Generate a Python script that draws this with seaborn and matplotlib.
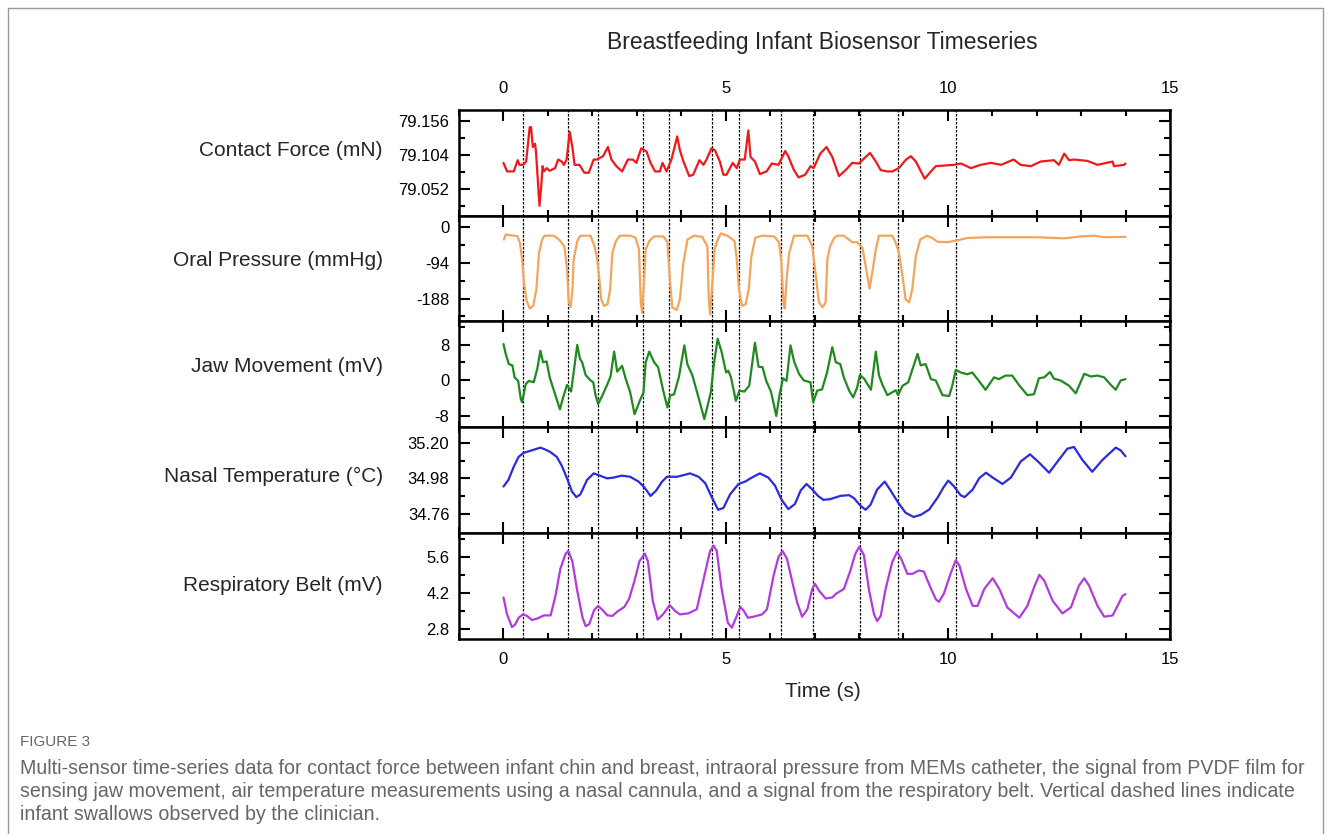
# Breastfeeding infant biosensor timeseries, five stacked panels

import seaborn as sns
import matplotlib.pyplot as plt
import matplotlib.ticker as mticker
from matplotlib.lines import Line2D

# ---- data ----
swallow_times = [0.44, 1.46, 2.13, 3.15, 3.72, 4.70, 5.30, 6.25, 6.97, 8.02, 8.87, 10.18]

force_t = [0.0, 0.08, 0.23, 0.32, 0.36, 0.44, 0.51, 0.59, 0.62, 0.66, 0.71, 0.73, 0.81, 0.85, 0.88,
           0.91, 0.97, 1.04, 1.16, 1.23, 1.31, 1.36, 1.42, 1.49, 1.55, 1.60, 1.71, 1.82, 1.92, 2.03,
           2.10, 2.24, 2.35, 2.43, 2.54, 2.67, 2.80, 2.91, 2.99, 3.10, 3.22, 3.31, 3.41, 3.52, 3.58,
           3.67, 3.78, 3.91, 3.97, 4.05, 4.18, 4.27, 4.41, 4.50, 4.57, 4.68, 4.76, 4.87, 4.95, 5.02,
           5.16, 5.25, 5.32, 5.43, 5.51, 5.56, 5.66, 5.77, 5.92, 6.04, 6.19, 6.34, 6.41, 6.53, 6.64,
           6.79, 6.91, 6.98, 7.13, 7.27, 7.40, 7.55, 7.70, 7.85, 8.00, 8.12, 8.25, 8.38, 8.49, 8.64,
           8.75, 8.90, 9.06, 9.17, 9.28, 9.48, 9.62, 9.73, 10.14, 10.30, 10.52, 10.74, 10.97, 11.20,
           11.48, 11.64, 11.87, 12.09, 12.39, 12.50, 12.62, 12.73, 12.84, 13.14, 13.37, 13.71, 13.74,
           13.97, 14.0]
force_v = [79.092, 79.079, 79.079, 79.096, 79.089, 79.089, 79.094, 79.146, 79.146, 79.116, 79.121,
           79.110, 79.027, 79.057, 79.087, 79.079, 79.084, 79.080, 79.084, 79.097, 79.094, 79.089,
           79.097, 79.139, 79.116, 79.089, 79.089, 79.077, 79.077, 79.097, 79.097, 79.102, 79.116,
           79.097, 79.087, 79.079, 79.097, 79.097, 79.092, 79.114, 79.109, 79.092, 79.079, 79.079,
           79.092, 79.079, 79.097, 79.132, 79.111, 79.094, 79.072, 79.074, 79.096, 79.089, 79.097,
           79.114, 79.111, 79.094, 79.074, 79.074, 79.092, 79.084, 79.097, 79.097, 79.141, 79.101,
           79.094, 79.075, 79.079, 79.091, 79.089, 79.110, 79.102, 79.082, 79.070, 79.074, 79.087,
           79.084, 79.106, 79.116, 79.101, 79.072, 79.081, 79.092, 79.091, 79.099, 79.107, 79.094,
           79.081, 79.079, 79.079, 79.084, 79.097, 79.102, 79.094, 79.068, 79.079, 79.087, 79.089,
           79.091, 79.084, 79.089, 79.092, 79.089, 79.097, 79.089, 79.087, 79.094, 79.096, 79.089,
           79.106, 79.096, 79.097, 79.095, 79.089, 79.094, 79.087, 79.089, 79.091]

pressure_t = [0.01, 0.05, 0.16, 0.31, 0.37, 0.42, 0.46, 0.52, 0.59, 0.67, 0.74, 0.80, 0.87, 0.92,
              1.13, 1.25, 1.37, 1.43, 1.47, 1.51, 1.55, 1.58, 1.66, 1.73, 1.96, 2.05, 2.11, 2.15,
              2.20, 2.26, 2.34, 2.40, 2.45, 2.53, 2.62, 2.86, 2.97, 3.05, 3.09, 3.12, 3.16, 3.20,
              3.28, 3.39, 3.60, 3.69, 3.75, 3.80, 3.90, 3.97, 4.05, 4.14, 4.29, 4.47, 4.59, 4.62,
              4.65, 4.70, 4.75, 4.81, 4.89, 5.04, 5.20, 5.25, 5.30, 5.37, 5.45, 5.52, 5.58, 5.67,
              5.82, 6.09, 6.20, 6.25, 6.30, 6.33, 6.37, 6.43, 6.54, 6.84, 6.95, 7.03, 7.10, 7.18,
              7.25, 7.29, 7.35, 7.44, 7.51, 7.66, 7.85, 7.96, 8.08, 8.19, 8.24, 8.30, 8.38, 8.45,
              8.75, 8.83, 8.90, 8.98, 9.05, 9.13, 9.20, 9.28, 9.38, 9.53, 9.65, 9.77, 9.99, 10.22,
              10.44, 10.89, 12.01, 12.62, 12.99, 13.29, 13.52, 14.0]
pressure_v = [-33, -20, -22, -24, -42, -85, -146, -194, -214, -207, -164, -68, -33, -23,
              -23, -33, -51, -111, -198, -210, -170, -85, -37, -23, -23, -51, -85, -129,
              -190, -207, -203, -164, -68, -37, -23, -23, -28, -59, -198, -225, -150, -59,
              -37, -25, -25, -40, -146, -211, -218, -190, -94, -33, -23, -26, -51, -190,
              -230, -150, -59, -37, -17, -23, -37, -85, -164, -207, -203, -164, -77, -28,
              -23, -25, -40, -85, -198, -214, -140, -68, -23, -23, -51, -129, -198, -211,
              -198, -85, -51, -29, -23, -23, -40, -40, -55, -129, -162, -120, -59, -23,
              -23, -42, -68, -129, -190, -198, -164, -77, -33, -23, -29, -39, -40, -35,
              -29, -27, -27, -30, -25, -23, -27, -26]

jaw_t = [0.0, 0.05, 0.12, 0.20, 0.25, 0.33, 0.39, 0.42, 0.50, 0.57, 0.68, 0.76, 0.83, 0.89, 0.97,
         1.04, 1.17, 1.27, 1.34, 1.43, 1.52, 1.58, 1.66, 1.72, 1.77, 1.85, 1.96, 2.02, 2.07, 2.13,
         2.22, 2.34, 2.41, 2.49, 2.56, 2.67, 2.75, 2.85, 2.95, 3.07, 3.15, 3.20, 3.28, 3.39, 3.48,
         3.60, 3.69, 3.75, 3.84, 3.95, 4.07, 4.14, 4.25, 4.40, 4.52, 4.59, 4.67, 4.73, 4.82, 4.91,
         5.01, 5.06, 5.12, 5.23, 5.31, 5.42, 5.53, 5.66, 5.74, 5.83, 5.91, 6.02, 6.14, 6.21, 6.29,
         6.37, 6.46, 6.54, 6.65, 6.76, 6.91, 6.97, 7.06, 7.17, 7.28, 7.40, 7.48, 7.58, 7.66, 7.78,
         7.87, 7.96, 8.02, 8.11, 8.27, 8.38, 8.45, 8.53, 8.64, 8.83, 8.88, 8.98, 9.11, 9.20, 9.32,
         9.39, 9.50, 9.62, 9.73, 9.88, 10.03, 10.10, 10.18, 10.29, 10.44, 10.55, 10.67, 10.85,
         11.04, 11.15, 11.30, 11.45, 11.60, 11.79, 11.94, 12.05, 12.17, 12.30, 12.39, 12.54,
         12.73, 12.88, 13.07, 13.22, 13.37, 13.52, 13.67, 13.78, 13.89, 14.0]
jaw_v = [8.1, 5.9, 3.6, 3.3, 0.6, -0.2, -4.3, -5.0, -0.9, -0.2, -0.5, 2.5, 6.6, 4.0, 4.2,
         0.6, -3.5, -6.6, -4.0, -1.1, -2.6, 1.8, 7.9, 4.8, 4.0, 1.1, -0.1, -0.5, -3.3, -5.4,
         -3.6, -0.9, 0.8, 6.4, 1.9, 3.2, 0.3, -2.7, -7.7, -4.6, -2.8, 4.0, 6.4, 4.0, 2.9,
         -2.6, -6.2, -3.5, -3.2, 0.8, 7.8, 3.5, 1.1, -4.3, -8.8, -5.9, -2.6, 3.2, 9.3, 6.3,
         1.7, 2.1, 0.6, -4.7, -2.4, -2.6, -1.3, 8.4, 3.0, 2.9, -0.1, -2.6, -8.1, -3.5, 0.4,
         -0.2, 7.8, 4.2, 1.4, -0.1, -0.5, -5.0, -2.4, -2.1, 1.6, 7.4, 4.0, 3.6, 0.6, -2.4,
         -3.9, -1.7, 1.1, 0.4, -2.2, 6.4, 1.1, -1.1, -3.4, -2.3, -3.4, -1.3, -0.5, 2.3, 5.9,
         3.3, 3.6, 0.2, -0.1, -3.4, -3.6, -1.3, 2.3, 1.7, 1.3, 1.7, 0.2, -2.2,
         0.6, 0.2, 1.0, 1.0, -1.1, -3.4, -3.2, 0.4, 0.6, 1.8, 0.3, -0.1,
         -1.3, -3.0, 1.4, 0.8, 1.0, 0.6, -1.1, -2.2, -0.1, 0.2]

temp_t = [0.0, 0.11, 0.23, 0.34, 0.45, 0.64, 0.83, 0.94, 1.05, 1.20, 1.31, 1.43, 1.54, 1.64, 1.73,
          1.88, 2.03, 2.14, 2.33, 2.48, 2.66, 2.85, 3.04, 3.17, 3.31, 3.44, 3.57, 3.68, 3.91, 4.05,
          4.20, 4.39, 4.54, 4.68, 4.83, 4.95, 5.10, 5.29, 5.44, 5.59, 5.77, 5.96, 6.11, 6.26, 6.41,
          6.56, 6.69, 6.82, 6.97, 7.08, 7.20, 7.35, 7.59, 7.78, 7.89, 8.03, 8.15, 8.26, 8.41, 8.58,
          8.71, 8.88, 9.05, 9.23, 9.39, 9.58, 9.77, 9.90, 10.01, 10.14, 10.29, 10.38, 10.56, 10.71,
          10.86, 11.01, 11.23, 11.42, 11.64, 11.85, 12.05, 12.28, 12.47, 12.69, 12.84, 13.03,
          13.25, 13.48, 13.78, 13.89, 14.0]
temp_v = [34.929, 34.970, 35.052, 35.114, 35.139, 35.155, 35.172, 35.160, 35.145, 35.114, 35.060,
          34.980, 34.898, 34.863, 34.880, 34.970, 35.011, 35.000, 34.980, 34.985, 34.997, 34.990,
          34.960, 34.924, 34.870, 34.905, 34.960, 34.990, 34.990, 35.000, 35.011, 34.990, 34.950,
          34.867, 34.784, 34.795, 34.880, 34.945, 34.960, 34.985, 35.011, 34.985, 34.935, 34.846,
          34.788, 34.820, 34.905, 34.945, 34.905, 34.870, 34.846, 34.850, 34.871, 34.875, 34.856,
          34.810, 34.784, 34.815, 34.910, 34.960, 34.905, 34.830, 34.765, 34.739, 34.752, 34.785,
          34.860, 34.922, 34.966, 34.930, 34.874, 34.863, 34.910, 34.982, 35.015, 34.985, 34.945,
          34.985, 35.085, 35.130, 35.080, 35.015, 35.085, 35.165, 35.176, 35.095, 35.021, 35.095,
          35.172, 35.155, 35.118]

belt_t = [0.0, 0.08, 0.19, 0.26, 0.34, 0.44, 0.53, 0.64, 0.76, 0.91, 1.06, 1.17, 1.28, 1.40, 1.46,
          1.55, 1.66, 1.78, 1.85, 1.93, 2.04, 2.13, 2.23, 2.34, 2.45, 2.57, 2.72, 2.83, 2.95, 3.06,
          3.18, 3.25, 3.36, 3.47, 3.59, 3.74, 3.86, 3.97, 4.16, 4.35, 4.54, 4.65, 4.73, 4.80, 4.91,
          5.05, 5.14, 5.25, 5.33, 5.40, 5.50, 5.63, 5.82, 5.93, 6.08, 6.19, 6.28, 6.38, 6.50, 6.61,
          6.72, 6.84, 6.95, 7.01, 7.10, 7.25, 7.40, 7.48, 7.66, 7.81, 7.92, 8.01, 8.11, 8.23, 8.34,
          8.41, 8.49, 8.60, 8.75, 8.86, 8.95, 9.09, 9.20, 9.35, 9.46, 9.61, 9.73, 9.80, 9.91, 10.06,
          10.18, 10.26, 10.41, 10.56, 10.67, 10.82, 11.01, 11.16, 11.34, 11.61, 11.79, 11.94,
          12.06, 12.17, 12.36, 12.58, 12.77, 12.95, 13.07, 13.18, 13.37, 13.52, 13.71, 13.84,
          13.93, 14.0]
belt_v = [4.04, 3.38, 2.89, 2.98, 3.25, 3.38, 3.32, 3.16, 3.22, 3.34, 3.34, 4.10, 5.16, 5.75, 5.85,
          5.45, 4.30, 3.25, 2.92, 3.00, 3.55, 3.71, 3.55, 3.34, 3.32, 3.50, 3.67, 4.00, 4.70, 5.45,
          5.75, 5.45, 3.91, 3.18, 3.38, 3.74, 3.52, 3.38, 3.42, 3.58, 5.03, 5.85, 6.06, 5.85, 4.37,
          3.05, 2.86, 3.32, 3.67, 3.54, 3.25, 3.29, 3.38, 3.58, 4.90, 5.62, 5.85, 5.55, 4.65, 3.84,
          3.29, 3.58, 4.37, 4.57, 4.31, 4.00, 4.04, 4.18, 4.37, 5.10, 5.75, 6.02, 5.70, 4.30, 3.38,
          3.12, 3.32, 4.37, 5.42, 5.82, 5.55, 4.96, 4.96, 5.09, 5.05, 4.43, 3.97, 3.87, 4.18, 4.96,
          5.49, 5.29, 4.37, 3.71, 3.71, 4.37, 4.79, 4.37, 3.65, 3.25, 3.71, 4.43, 4.92, 4.70, 3.91,
          3.42, 3.65, 4.50, 4.79, 4.50, 3.71, 3.29, 3.34, 3.78, 4.10, 4.17]

panel_labels = ["Contact Force (mN)", "Oral Pressure (mmHg)", "Jaw Movement (mV)",
                "Nasal Temperature (°C)", "Respiratory Belt (mV)"]
panel_colors = ["#f01818", "#f5a55a", "#1f8a1f", "#2a2ae0", "#b23ae0"]
major_ticks = [[79.052, 79.104, 79.156], [-188, -94, 0], [-8, 0, 8],
               [34.76, 34.98, 35.20], [2.8, 4.2, 5.6]]
minor_ticks = [[79.026, 79.078, 79.130], [-235, -141, -47], [-4, 4, 12],
               [34.87, 35.09], [3.5, 4.9, 6.3]]
tick_fmt = ["{:.3f}", "{:.0f}", "{:.0f}", "{:.2f}", "{:.1f}"]
y_limits = [(79.012, 79.172), (-248, 29.5), (-10.6, 13.2), (34.64, 35.30), (2.44, 6.56)]
label_y = [0.62, 0.58, 0.57, 0.53, 0.50]

series = [(force_t, force_v), (pressure_t, pressure_v), (jaw_t, jaw_v),
          (temp_t, temp_v), (belt_t, belt_v)]

sns.set_style("ticks")
plt.rcParams['font.family'] = ['Liberation Sans', 'DejaVu Sans']
plt.rcParams['axes.unicode_minus'] = False

fig, axes = plt.subplots(5, 1, figsize=(13.31, 8.34), dpi=100, sharex=True)
fig.subplots_adjust(left=0.3449, right=0.8790, top=0.8681, bottom=0.2344, hspace=0)

for i, ax in enumerate(axes):
    t, v = series[i]
    for s in swallow_times:
        ax.axvline(s, color="black", lw=0.9, ls=(0, (2, 1.2)), zorder=1)
    sns.lineplot(x=t, y=v, ax=ax, color=panel_colors[i], lw=1.6, sort=False,
                 estimator=None, zorder=3)
    ax.set_xlim(-1, 15)
    ax.set_ylim(*y_limits[i])
    ax.xaxis.set_major_locator(mticker.FixedLocator([0, 5, 10, 15]))
    ax.xaxis.set_minor_locator(mticker.FixedLocator(list(range(-1, 16))))
    ax.yaxis.set_major_locator(mticker.FixedLocator(major_ticks[i]))
    ax.yaxis.set_minor_locator(mticker.FixedLocator(minor_ticks[i]))
    ax.set_yticklabels([tick_fmt[i].format(x) for x in major_ticks[i]])
    ax.tick_params(which="both", direction="in", top=True, right=True, width=1.5,
                   labelsize=12, colors="black")
    ax.tick_params(axis="y", pad=7)
    ax.tick_params(axis="x", pad=10)
    ax.tick_params(which="major", length=8)
    ax.tick_params(which="minor", length=4.5)
    ax.tick_params(axis="x", labelbottom=(i == 4), labeltop=(i == 0))
    for sp in ax.spines.values():
        sp.set_linewidth(1.8)
        sp.set_color("black")
    ax.set_xlabel("")
    ax.set_ylabel("")
    ax.text(-0.107, label_y[i], panel_labels[i], transform=ax.transAxes,
            ha="right", va="center", fontsize=15)

axes[-1].set_xlabel("Time (s)", fontsize=15)
axes[-1].xaxis.set_label_coords(0.512, -0.41)

fig.text(822 / 1331, 1 - 43 / 834, "Breastfeeding Infant Biosensor Timeseries",
         ha="center", va="center", fontsize=16.5)

# outer frame of the figure panel
frame = dict(color="#9a9a9a", lw=1.0, transform=fig.transFigure)
fig.add_artist(Line2D([8 / 1331, 8 / 1331], [0, 1 - 8 / 834], **frame))
fig.add_artist(Line2D([8 / 1331, 1323 / 1331], [1 - 8 / 834, 1 - 8 / 834], **frame))
fig.add_artist(Line2D([1323 / 1331, 1323 / 1331], [0, 1 - 8 / 834], **frame))

# caption
fig.text(20 / 1331, 1 - 742 / 834, "FIGURE 3", ha="left", va="center",
         fontsize=11, color="#666666")
caption = ["Multi-sensor time-series data for contact force between infant chin and breast, "
           "intraoral pressure from MEMs catheter, the signal from PVDF film for",
           "sensing jaw movement, air temperature measurements using a nasal cannula, and a "
           "signal from the respiratory belt. Vertical dashed lines indicate",
           "infant swallows observed by the clinician."]
for k, line in enumerate(caption):
    fig.text(20 / 1331, 1 - (769 + 22.5 * k) / 834, line, ha="left", va="center",
             fontsize=14.1, color="#666666")

plt.savefig("out.png", dpi=100)
